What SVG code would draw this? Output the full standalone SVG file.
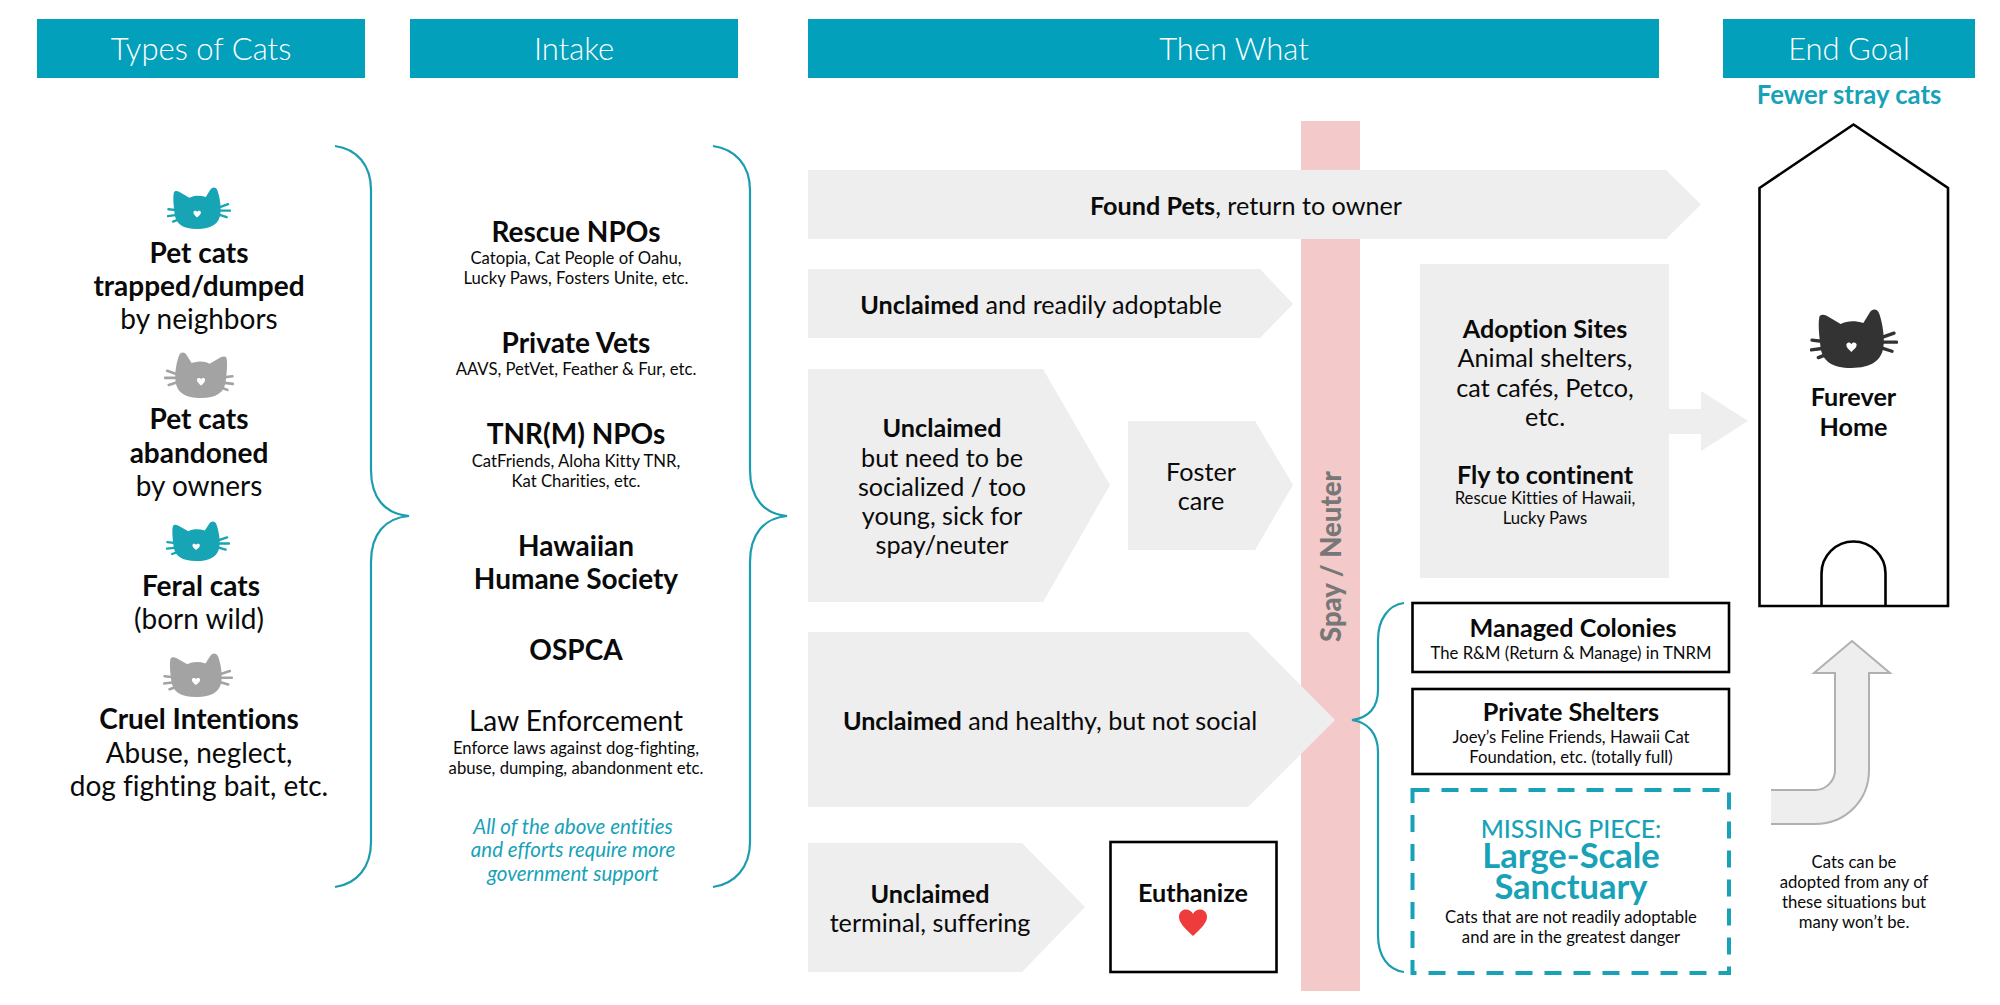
<svg xmlns="http://www.w3.org/2000/svg" width="2000" height="1005" viewBox="0 0 2000 1005">
<style>
text{font-family:"Lato","Open Sans","Liberation Sans",sans-serif;fill:#0a0a0a;text-anchor:middle;font-variant-ligatures:none}
.b{font-weight:700}.h{font-size:31px;font-weight:300;fill:#fff}
.l{font-size:28px}.m{font-size:25.2px}.i{font-size:28px}.s{font-size:16.7px}.t{fill:#17a2b8}
.bar{fill:#03a0bb}.gr{fill:#eeeeee}.bx{fill:#fff;stroke:#000;stroke-width:2.6}
.br{fill:none;stroke:#1b9cb0;stroke-width:2.2}
.cat-t{color:#17a5b5}.cat-g{color:#a3a3a3}.cat-k{color:#333}
</style>
<defs>
<symbol id="cat" viewBox="58 56 264 176" preserveAspectRatio="none">
<path fill="currentColor" d="M86 80C88 72 98 71 108 76L150 101C170 90 195 90 218 98L235 70C243 55 258 53 265 68C274 92 281 130 279 160C277 212 240 232 182 232C125 232 93 212 89 165C85 130 82 102 86 80Z"/>
<path fill="none" stroke="currentColor" stroke-width="10" stroke-linecap="round" d="M64 149L98 153M62 178L100 173M83 201L112 190M276 140L310 128M276 155L318 155M272 172L304 182"/>
<path fill="#fff" d="M182 184C174 177 167 171 167 163C167 154 179 153 182 161C185 153 198 154 198 163C198 171 190 177 182 184Z"/>
</symbol>
</defs>
<rect width="2000" height="1005" fill="#fff"/>

<g id="pink-bar"><rect x="1301" y="121" width="59" height="870" fill="#f3c9c9"/>
<text transform="translate(1341 642) rotate(-90)" style="text-anchor:start;fill:#777;font-size:27.500px;font-weight:900">Spay / Neuter</text></g>

<g id="connectors">
<path class="br" d="M335 146C357 149 371 165 371 190V470C371 498 385 514 409 516C385 518 371 534 371 562V842C371 867 357 884 335 887"/>
<path class="br" d="M713 146C735 149 750 165 750 190V470C750 498 764 514 787 516C764 518 750 534 750 562V842C750 867 735 884 713 887"/>
<path class="br" d="M1404 603C1388 605 1378 620 1378 640V690C1378 708 1368 718 1352 720C1368 722 1378 734 1378 752V935C1378 956 1388 970 1404 972"/>
<path id="arrow-adopt" class="gr" d="M1669 409H1701V391L1748 421L1701 451V434H1669Z"/>
<g id="arrow-return"><path class="gr" d="M1771 824H1815C1846 824 1869 800 1869 770V673H1890L1852 641L1814 673H1835V770C1835 781 1826 790 1815 790H1771Z"/>
<path fill="none" stroke="#b0b0b0" stroke-width="2" d="M1771 824H1815C1846 824 1869 800 1869 770V673H1890L1852 641L1814 673H1835V770C1835 781 1826 790 1815 790H1771"/></g>
</g>

<g id="header-types"><rect class="bar" x="37" y="19" width="328" height="59"/><text class="h" x="201" y="60">Types of Cats</text></g>
<g id="header-intake"><rect class="bar" x="410" y="19" width="328" height="59"/><text class="h" x="574" y="60">Intake</text></g>
<g id="header-then"><rect class="bar" x="808" y="19" width="851" height="59"/><text class="h" x="1234" y="60">Then What</text></g>
<g id="header-goal"><rect class="bar" x="1723" y="19" width="252" height="59"/><text class="h" x="1849" y="60">End Goal</text>
<text class="b t" x="1849" y="104" font-size="25.7">Fewer stray cats</text></g>

<g id="type-trapped"><use href="#cat" class="cat-t" x="167" y="187" width="64" height="42"/>
<text class="l b" x="199" y="263">Pet cats</text><text class="l b" x="199" y="296">trapped/dumped</text><text class="l" x="199" y="329">by neighbors</text></g>
<g id="type-abandoned"><use href="#cat" class="cat-g" transform="translate(398 0) scale(-1 1)" x="164" y="352" width="70" height="46"/>
<text class="l b" x="199" y="429">Pet cats</text><text class="l b" x="199" y="463">abandoned</text><text class="l" x="199" y="496">by owners</text></g>
<g id="type-feral"><use href="#cat" class="cat-t" x="166" y="521" width="64" height="40"/>
<text class="l b" x="201" y="596">Feral cats</text><text class="l" x="199" y="629">(born wild)</text></g>
<g id="type-cruel"><use href="#cat" class="cat-g" x="163" y="653" width="70" height="44"/>
<text class="l b" x="199" y="729">Cruel Intentions</text><text class="l" x="199" y="763">Abuse, neglect,</text><text class="l" x="199" y="796">dog fighting bait, etc.</text></g>

<g id="intake-rescue"><text class="i b" x="576" y="242">Rescue NPOs</text><text class="s" x="576" y="264">Catopia, Cat People of Oahu,</text><text class="s" x="576" y="284">Lucky Paws, Fosters Unite, etc.</text></g>
<g id="intake-vets"><text class="i b" x="576" y="353">Private Vets</text><text class="s" x="576" y="375">AAVS, PetVet, Feather &amp; Fur, etc.</text></g>
<g id="intake-tnr"><text class="i b" x="576" y="444">TNR(M) NPOs</text><text class="s" x="576" y="467">CatFriends, Aloha Kitty TNR,</text><text class="s" x="576" y="487">Kat Charities, etc.</text></g>
<g id="intake-hhs"><text class="i b" x="576" y="556">Hawaiian</text><text class="i b" x="576" y="589">Humane Society</text></g>
<g id="intake-ospca"><text class="i b" x="576" y="660">OSPCA</text></g>
<g id="intake-law"><text class="i" x="576" y="731">Law Enforcement</text><text class="s" x="576" y="754">Enforce laws against dog-fighting,</text><text class="s" x="576" y="774">abuse, dumping, abandonment etc.</text></g>
<g id="intake-note" font-style="italic" font-size="20.500"><text class="t" x="573" y="834">All of the above entities</text><text class="t" x="573" y="857">and efforts require more</text><text class="t" x="573" y="881">government support</text></g>

<g id="found-pets"><path class="gr" d="M808 170H1666L1701 204.5L1666 239H808Z"/><text class="m" x="1246" y="215"><tspan class="b">Found Pets</tspan>, return to owner</text></g>
<g id="adoptable"><path class="gr" d="M808 269H1260L1293 304L1260 338H808Z"/><text class="m" x="1041" y="314"><tspan class="b">Unclaimed</tspan> and readily adoptable</text></g>
<g id="socialize"><path class="gr" d="M808 369H1043L1110 485L1043 602H808Z"/><text class="m b" x="942" y="437">Unclaimed</text><text class="m" x="942" y="467">but need to be</text><text class="m" x="942" y="496">socialized / too</text><text class="m" x="942" y="525">young, sick for</text><text class="m" x="942" y="554">spay/neuter</text></g>
<g id="foster"><path class="gr" d="M1128 421H1255L1293 485L1255 550H1128Z"/><text class="m" x="1201" y="481">Foster</text><text class="m" x="1201" y="510">care</text></g>
<g id="healthy"><path class="gr" d="M808 632H1248L1335 720L1248 807H808Z"/><text class="m" x="1050" y="730"><tspan class="b">Unclaimed</tspan> and healthy, but not social</text></g>
<g id="terminal"><path class="gr" d="M808 843H1022L1085 907L1022 972H808Z"/><text class="m b" x="930" y="903">Unclaimed</text><text class="m" x="930" y="932" font-size="24.600">terminal, suffering</text></g>
<g id="euthanize"><rect class="bx" x="1110.500" y="842" width="166" height="130"/><text class="m b" x="1193" y="902">Euthanize</text>
<path fill="#ee3b3b" d="M1193 936C1184 928 1179 922 1179 917C1179 908 1190 907 1193 914C1196 907 1207 908 1207 917C1207 922 1202 928 1193 936Z"/></g>

<g id="adoption-sites"><rect class="gr" x="1420" y="264" width="249" height="314"/>
<text class="m b" x="1545" y="338">Adoption Sites</text><text class="m" x="1545" y="367">Animal shelters,</text><text class="m" x="1545" y="397">cat cafés, Petco,</text><text class="m" x="1545" y="426">etc.</text>
<text class="m b" x="1545" y="484">Fly to continent</text><text class="s" x="1545" y="504">Rescue Kitties of Hawaii,</text><text class="s" x="1545" y="524">Lucky Paws</text></g>

<g id="furever-home"><path fill="#fff" stroke="#000" stroke-width="2.6" d="M1759.5 188L1853.5 124.5L1948 188V606H1759.5Z"/>
<path fill="none" stroke="#000" stroke-width="2.6" d="M1821.5 606V573.5A32 32 0 0 1 1885.5 573.5V606"/>
<use href="#cat" class="cat-k" x="1810" y="309" width="88" height="59"/>
<text class="m b" x="1853.5" y="406">Furever</text><text class="m b" x="1853.5" y="436">Home</text></g>

<g id="managed"><rect class="bx" x="1412.5" y="603" width="316.500" height="69"/><text class="m b" x="1573" y="637">Managed Colonies</text><text class="s" x="1571" y="659">The R&amp;M (Return &amp; Manage) in TNRM</text></g>
<g id="private"><rect class="bx" x="1412.5" y="689" width="316.500" height="85"/><text class="m b" x="1571" y="721">Private Shelters</text><text class="s" x="1571" y="743">Joey’s Feline Friends, Hawaii Cat</text><text class="s" x="1571" y="763">Foundation, etc. (totally full)</text></g>
<g id="sanctuary"><rect x="1412.500" y="790" width="316.500" height="183" fill="#fff" stroke="#17a2b8" stroke-width="4" stroke-dasharray="17 12"/>
<text class="t" x="1571" y="838" font-size="24.800" font-weight="500">MISSING PIECE:</text><text class="t b" x="1571" y="868" font-size="34.500">Large-Scale</text><text class="t b" x="1571" y="899" font-size="34.500">Sanctuary</text>
<text class="s" x="1571" y="923">Cats that are not readily adoptable</text><text class="s" x="1571" y="943">and are in the greatest danger</text></g>
<g id="note"><text class="s" x="1854" y="868">Cats can be</text><text class="s" x="1854" y="888">adopted from any of</text><text class="s" x="1854" y="908">these situations but</text><text class="s" x="1854" y="928">many won’t be.</text></g>
</svg>
